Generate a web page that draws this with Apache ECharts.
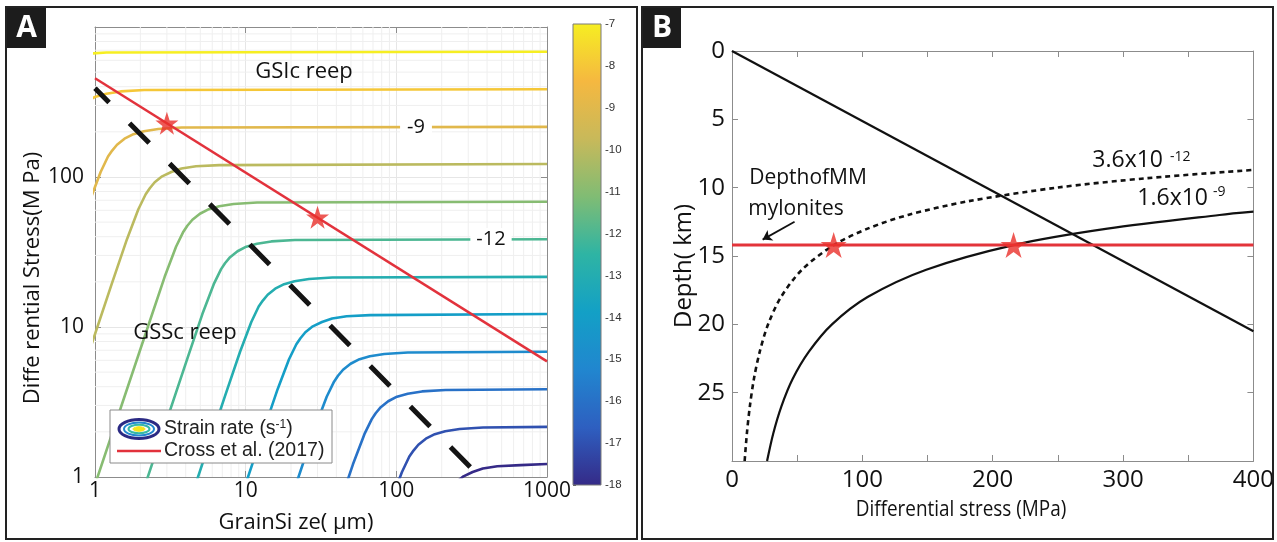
<!DOCTYPE html>
<html>
<head>
<meta charset="utf-8">
<script src="https://cdn.jsdelivr.net/npm/echarts@6/dist/echarts.min.js"></script>
<style>
  html, body { margin: 0; padding: 0; background: #fff; }
  #chart { width: 1277px; height: 542px; }
</style>
</head>
<body>
<div id="chart"></div>
<script>
// ---------------- Panel A: deformation mechanism map ----------------
// Strain-rate contour levels, log10(s^-1)
const levels = [-7, -8, -9, -10, -11, -12, -13, -14, -15, -16, -17, -18];

// Contour traces: [grain size (µm), differential stress (MPa)]
const contourM7  = [[0.667, 638], [0.831, 661], [1.19, 676], [1000, 684]];
const contourM8  = [[0.788, 292], [0.883, 320], [1.01, 343], [1.19, 359], [1.48, 372], [2.12, 380], [1000, 385]];
const contourM9  = [[0.727, 34.3], [0.918, 68.4], [1.09, 108], [1.22, 137], [1.30, 150], [1.40, 164], [1.57, 180], [1.80, 193], [2.11, 202], [2.63, 209], [3.76, 214], [1000, 216]];
const contourM10 = [[0.515, 1.22], [1.29, 19.3], [1.63, 38.5], [1.94, 61.0], [2.17, 76.7], [2.31, 84.2], [2.49, 92.3], [2.79, 101], [3.21, 108], [3.75, 114], [4.68, 118], [6.69, 120], [1000, 122]];
const contourM11 = [[0.916, 0.684], [2.30, 10.8], [2.90, 21.6], [3.45, 34.3], [3.86, 43.2], [4.10, 47.3], [4.43, 51.9], [4.97, 56.9], [5.70, 61.0], [6.67, 63.8], [8.31, 66.1], [11.9, 67.6], [1000, 68.4]];
const contourM12 = [[1.63, 0.385], [4.09, 6.10], [5.16, 12.2], [6.14, 19.3], [6.87, 24.3], [7.29, 26.6], [7.88, 29.2], [8.83, 32.0], [10.1, 34.3], [11.9, 35.9], [14.8, 37.2], [21.2, 38.0], [1000, 38.5]];
const contourM13 = [[2.90, 0.216], [7.27, 3.43], [9.18, 6.84], [10.9, 10.8], [12.2, 13.7], [13.0, 15.0], [14.0, 16.4], [15.7, 18.0], [18.0, 19.3], [21.1, 20.2], [26.3, 20.9], [37.6, 21.4], [1000, 21.6]];
const contourM14 = [[5.15, 0.122], [12.9, 1.93], [16.3, 3.85], [19.4, 6.10], [21.7, 7.67], [23.1, 8.42], [24.9, 9.23], [27.9, 10.1], [32.1, 10.8], [37.5, 11.4], [46.8, 11.8], [66.9, 12.0], [1000, 12.2]];
const contourM15 = [[9.16, 0.0684], [23.0, 1.08], [29.0, 2.16], [34.5, 3.43], [38.6, 4.32], [41.0, 4.73], [44.3, 5.19], [49.7, 5.69], [57.0, 6.10], [66.7, 6.38], [83.1, 6.61], [119, 6.76], [1000, 6.84]];
const contourM16 = [[40.9, 0.610], [51.6, 1.22], [61.4, 1.93], [68.7, 2.43], [72.9, 2.66], [78.8, 2.92], [88.3, 3.20], [101, 3.43], [119, 3.59], [148, 3.72], [212, 3.80], [1000, 3.85]];
const contourM17 = [[72.7, 0.343], [91.8, 0.684], [109, 1.08], [122, 1.37], [130, 1.50], [140, 1.64], [157, 1.80], [180, 1.93], [211, 2.02], [263, 2.09], [376, 2.14], [1000, 2.16]];
const contourM18 = [[163, 0.385], [194, 0.610], [217, 0.767], [231, 0.842], [249, 0.923], [279, 1.01], [321, 1.08], [375, 1.14], [468, 1.18], [669, 1.20], [1000, 1.22]];

// Cross et al. (2017) piezometer
const crossPiezometer = [[1, 455], [1000, 5.9]];
// GSS / GSI field boundary
const fieldBoundary = [[1, 390], [360, 1]];
// Intersections marked with stars
const starsA = [[3, 228], [30, 54]];

// Decade tick labels and minor grid values
const ticksA = [1, 10, 100, 1000];
const minorGridA = [2, 3, 4, 5, 6, 7, 8, 9, 20, 30, 40, 50, 60, 70, 80, 90, 200, 300, 400, 500, 600, 700, 800, 900];

// Colour bar range
const colorbarRange = [-18, -7];

// ---------------- Panel B: stress vs depth ----------------
// Brittle strength line: [stress (MPa), depth (km)]
const brittleLine = [[0, 0], [400, 20.5]];
// Flow law at 3.6x10^-12 s^-1
const creepSlow = [[9.7, 30], [11.4, 28], [13.7, 26], [16.8, 24], [21.3, 22], [27.7, 20], [37.6, 18], [53.7, 16], [78.1, 14.2], [104, 13], [135, 12], [181, 11], [249, 10], [319, 9.3], [400, 8.7]];
// Flow law at 1.6x10^-9 s^-1
const creepFast = [[26.9, 30], [31.6, 28], [37.9, 26], [46.5, 24], [59.0, 22], [76.7, 20], [104, 18], [149, 16], [216, 14.2], [288, 13], [374, 12], [400, 11.76]];
// Depth of the MM mylonites
const myloniteDepth = [[0, 14.2], [400, 14.2]];
const starsB = [[78, 14.2], [216, 14.2]];
const mmArrow = [[48, 12.5], [23.5, 13.8]];

// ---------------- styling helpers ----------------
const palette = ['#352a87', '#2e5fc0', '#2186cf', '#13a0c6', '#2eb4a4', '#80bc74', '#c8b95a', '#f5b840', '#f6ee22'];
function hexToRgb(h) { return [1, 3, 5].map(i => parseInt(h.slice(i, i + 2), 16)); }
function paletteAt(t) {
  const n = palette.length - 1;
  const f = Math.min(Math.max(t, 0), 1) * n;
  const i = Math.min(Math.floor(f), n - 1);
  const u = f - i;
  const a = hexToRgb(palette[i]), b = hexToRgb(palette[i + 1]);
  const c = a.map((v, k) => Math.round(v * (1 - u) + b[k] * u));
  return 'rgb(' + c.join(',') + ')';
}
const levelColor = L => paletteAt((L - colorbarRange[0]) / (colorbarRange[1] - colorbarRange[0]));

const STAR = 'path://M50,0 L61.2,34.5 L97.6,34.5 L68.2,55.9 L79.4,90.5 L50,69.1 L20.6,90.5 L31.8,55.9 L2.4,34.5 L38.8,34.5 Z';
const SANS = "'Open Sans', 'Noto Sans', sans-serif";
const ARIAL = "'Liberation Sans', Arial, sans-serif";
const FRAME = '#8c8c8c';

const contours = [contourM7, contourM8, contourM9, contourM10, contourM11, contourM12,
                  contourM13, contourM14, contourM15, contourM16, contourM17, contourM18];

const fmtLog = (hide) => v => {
  const r = Math.round(v);
  return (ticksA.includes(r) && !hide.includes(r)) ? String(r) : '';
};

// minor log grid as broken polylines, kept beneath the contours
const minorGridLines = [];
minorGridA.forEach(v => { minorGridLines.push([v, 1], [v, 1000], [null, null]); });
minorGridA.forEach(v => { minorGridLines.push([1, v], [1000, v], [null, null]); });

const series = [];

series.push({
  type: 'line', xAxisIndex: 0, yAxisIndex: 0, data: minorGridLines, showSymbol: false,
  connectNulls: false, lineStyle: { color: '#efefef', width: 1 }, silent: true, z: 1
});

contours.forEach((pts, i) => {
  series.push({
    type: 'line', name: 'log rate ' + levels[i], xAxisIndex: 0, yAxisIndex: 0,
    data: pts, showSymbol: false, smooth: false, clip: true,
    lineStyle: { width: 2.6, color: levelColor(levels[i]), join: 'round' }, z: 3, silent: true
  });
});

series.push({
  type: 'line', name: 'Cross et al. (2017)', xAxisIndex: 0, yAxisIndex: 0, data: crossPiezometer,
  showSymbol: false, clip: true, lineStyle: { width: 2.5, color: '#e2323c' }, z: 5, silent: true
});
series.push({
  type: 'line', name: 'boundary', xAxisIndex: 0, yAxisIndex: 0, data: fieldBoundary,
  showSymbol: false, clip: true, z: 4, silent: true,
  lineStyle: { width: 5, color: '#141414', type: [28, 29], dashOffset: 8, cap: 'butt' }
});
series.push({
  type: 'scatter', xAxisIndex: 0, yAxisIndex: 0, data: starsA, symbol: STAR, symbolSize: 23,
  itemStyle: { color: '#e8302a' }, z: 10, silent: true
});

// colour bar
series.push({
  type: 'custom', xAxisIndex: 2, yAxisIndex: 2, data: [[0, colorbarRange[0], colorbarRange[1]]], silent: true,
  renderItem: (params, api) => {
    const p0 = api.coord([0, api.value(2)]);
    const p1 = api.coord([1, api.value(1)]);
    return {
      type: 'rect',
      shape: { x: p0[0], y: p0[1], width: p1[0] - p0[0], height: p1[1] - p0[1] },
      style: {
        fill: new echarts.graphic.LinearGradient(0, 0, 0, 1,
          palette.slice().reverse().map((c, i) => ({ offset: i / (palette.length - 1), color: c }))),
        stroke: '#7a7a7a', lineWidth: 1
      }
    };
  }
});

// panel B series
series.push({
  type: 'line', xAxisIndex: 3, yAxisIndex: 3, data: brittleLine, showSymbol: false,
  lineStyle: { width: 2.2, color: '#111' }, z: 3, silent: true
});
series.push({
  type: 'line', xAxisIndex: 3, yAxisIndex: 3, data: creepSlow, showSymbol: false, smooth: 0.3,
  lineStyle: { width: 2.6, color: '#111', type: [5, 4] }, z: 3, silent: true
});
series.push({
  type: 'line', xAxisIndex: 3, yAxisIndex: 3, data: creepFast, showSymbol: false, smooth: 0.3,
  lineStyle: { width: 2.2, color: '#111' }, z: 3, silent: true
});
series.push({
  type: 'line', xAxisIndex: 3, yAxisIndex: 3, data: myloniteDepth, showSymbol: false,
  lineStyle: { width: 3, color: '#e3343a' }, z: 4, silent: true
});
series.push({
  type: 'scatter', xAxisIndex: 3, yAxisIndex: 3, data: starsB, symbol: STAR, symbolSize: 26,
  itemStyle: { color: '#ea2f2a' }, z: 10, silent: true
});
series.push({
  type: 'lines', coordinateSystem: 'cartesian2d', xAxisIndex: 3, yAxisIndex: 3,
  data: [{ coords: mmArrow }], symbol: ['none', 'arrow'], symbolSize: 9,
  lineStyle: { width: 1.8, color: '#111', opacity: 1 }, z: 5, silent: true
});

const axisCommon = {
  axisLine: { show: true, onZero: false, lineStyle: { color: FRAME, width: 1 } },
  axisTick: { show: true, inside: true, length: 6, lineStyle: { color: FRAME } },
  splitLine: { show: false }
};

const option = {
  animation: false,
  backgroundColor: '#fff',
  grid: [
    { left: 95, top: 27, width: 452, height: 450 },
    { left: 573, top: 24, width: 28, height: 461 },
    { left: 732, top: 51, width: 522, height: 410 }
  ],
  xAxis: [
    Object.assign({}, axisCommon, {
      gridIndex: 0, type: 'log', logBase: 10, min: 1, max: 1000,
      axisLabel: { fontFamily: SANS, fontSize: 21, color: '#111', margin: 4, formatter: fmtLog([]) },
      splitLine: { show: true, lineStyle: { color: '#e6e6e6' } }
    }),
    Object.assign({}, axisCommon, {
      gridIndex: 0, type: 'log', logBase: 10, min: 1, max: 1000, position: 'top',
      axisLabel: { show: false }
    }),
    { gridIndex: 1, type: 'value', min: 0, max: 1, show: false },
    Object.assign({}, axisCommon, {
      gridIndex: 2, type: 'value', min: 0, max: 400, interval: 50,
      axisLabel: { fontFamily: SANS, fontSize: 24, color: '#111', margin: 7,
                   formatter: v => (v % 100 === 0 ? String(v) : '') }
    }),
    Object.assign({}, axisCommon, {
      gridIndex: 2, type: 'value', min: 0, max: 400, interval: 50, position: 'top',
      axisLabel: { show: false }
    })
  ],
  yAxis: [
    Object.assign({}, axisCommon, {
      gridIndex: 0, type: 'log', logBase: 10, min: 1, max: 1000,
      axisLabel: { fontFamily: SANS, fontSize: 21, color: '#111', margin: 11, formatter: fmtLog([1000]) },
      splitLine: { show: true, lineStyle: { color: '#e6e6e6' } }
    }),
    Object.assign({}, axisCommon, {
      gridIndex: 0, type: 'log', logBase: 10, min: 1, max: 1000, position: 'right',
      axisLabel: { show: false }
    }),
    {
      gridIndex: 1, type: 'value', min: colorbarRange[0], max: colorbarRange[1], interval: 1, position: 'right',
      axisLine: { show: false },
      axisTick: { show: true, inside: false, length: 3, lineStyle: { color: '#555' } },
      axisLabel: { fontFamily: ARIAL, fontSize: 11.5, color: '#333', margin: 4 },
      splitLine: { show: false }
    },
    Object.assign({}, axisCommon, {
      gridIndex: 2, type: 'value', min: 0, max: 30, interval: 5, inverse: true,
      axisLabel: { fontFamily: SANS, fontSize: 24, color: '#111', margin: 7,
                   formatter: v => (v === 30 ? '' : String(v)) }
    }),
    Object.assign({}, axisCommon, {
      gridIndex: 2, type: 'value', min: 0, max: 30, interval: 5, inverse: true, position: 'right',
      axisLabel: { show: false }
    })
  ],
  series: series,
  graphic: [
    // panel frames
    { type: 'rect', shape: { x: 6, y: 7, width: 631, height: 532 }, style: { fill: 'none', stroke: '#222', lineWidth: 2 }, z: 100, silent: true },
    { type: 'rect', shape: { x: 642, y: 7, width: 631, height: 532 }, style: { fill: 'none', stroke: '#222', lineWidth: 2 }, z: 100, silent: true },
    // panel letters
    { type: 'rect', shape: { x: 7, y: 8, width: 39, height: 40 }, style: { fill: '#1c1c1c' }, z: 101, silent: true },
    { type: 'text', x: 26.5, y: 28, style: { text: 'A', font: "bold 30px " + SANS, fill: '#fff', textAlign: 'center', textVerticalAlign: 'middle' }, z: 102, silent: true },
    { type: 'rect', shape: { x: 643, y: 8, width: 38, height: 40 }, style: { fill: '#1c1c1c' }, z: 101, silent: true },
    { type: 'text', x: 662, y: 28, style: { text: 'B', font: "bold 30px " + SANS, fill: '#fff', textAlign: 'center', textVerticalAlign: 'middle' }, z: 102, silent: true },

    // panel A axis titles
    { type: 'text', x: 33, y: 278, rotation: Math.PI / 2, style: { text: 'Diffe rential Stress(M Pa)', font: '22px ' + SANS, fill: '#111', textAlign: 'center', textVerticalAlign: 'middle' }, silent: true },
    { type: 'text', x: 296, y: 523, style: { text: 'GrainSi ze( μm)', font: '22px ' + SANS, fill: '#111', textAlign: 'center', textVerticalAlign: 'middle' }, silent: true },
    // panel A annotations
    { type: 'text', x: 304, y: 72, style: { text: 'GSIc reep', font: '22px ' + SANS, fill: '#111', textAlign: 'center', textVerticalAlign: 'middle' }, z: 20, silent: true },
    { type: 'text', x: 185, y: 333, style: { text: 'GSSc reep', font: '22px ' + SANS, fill: '#111', textAlign: 'center', textVerticalAlign: 'middle' }, z: 20, silent: true },
    { type: 'text', x: 416, y: 127, style: { text: '-9', font: '20px ' + SANS, fill: '#111', backgroundColor: '#fff', padding: [1, 7], textAlign: 'center', textVerticalAlign: 'middle' }, z: 20, silent: true },
    { type: 'text', x: 491, y: 239, style: { text: '-12', font: '20px ' + SANS, fill: '#111', backgroundColor: '#fff', padding: [1, 6], textAlign: 'center', textVerticalAlign: 'middle' }, z: 20, silent: true },

    // panel A legend
    { type: 'rect', shape: { x: 110, y: 410, width: 222, height: 53 }, style: { fill: '#fff', stroke: '#8a8a8a', lineWidth: 1 }, z: 30, silent: true },
    { type: 'ellipse', shape: { cx: 139, cy: 429, rx: 20, ry: 9.5 }, style: { fill: '#fff', stroke: '#2b2a84', lineWidth: 3 }, z: 31, silent: true },
    { type: 'ellipse', shape: { cx: 139, cy: 429, rx: 15, ry: 6.5 }, style: { fill: 'none', stroke: '#2186cf', lineWidth: 2 }, z: 31, silent: true },
    { type: 'ellipse', shape: { cx: 139, cy: 429, rx: 10.5, ry: 4.2 }, style: { fill: 'none', stroke: '#36b9a6', lineWidth: 2 }, z: 31, silent: true },
    { type: 'ellipse', shape: { cx: 139, cy: 429, rx: 6, ry: 2.3 }, style: { fill: '#f5e51c', stroke: '#f5e51c', lineWidth: 1 }, z: 31, silent: true },
    { type: 'text', x: 164, y: 429, style: { text: 'Strain rate (s{sup|-1})', font: '19.5px ' + ARIAL, fill: '#222', textAlign: 'left', textVerticalAlign: 'middle',
        rich: { sup: { fontSize: 12, fontFamily: ARIAL, verticalAlign: 'top', fill: '#222' } } }, z: 31, silent: true },
    { type: 'line', shape: { x1: 117, y1: 451, x2: 161, y2: 451 }, style: { stroke: '#e2323c', lineWidth: 2.5 }, z: 31, silent: true },
    { type: 'text', x: 164, y: 451, style: { text: 'Cross et al. (2017)', font: '19.5px ' + ARIAL, fill: '#222', textAlign: 'left', textVerticalAlign: 'middle' }, z: 31, silent: true },

    // panel B axis titles
    { type: 'text', x: 961, y: 510, scaleX: 0.86, style: { text: 'Differential stress (MPa)', font: '22px ' + SANS, fill: '#111', textAlign: 'center', textVerticalAlign: 'middle' }, silent: true },
    { type: 'text', x: 684, y: 266, rotation: Math.PI / 2, style: { text: 'Depth( km)', font: '24px ' + SANS, fill: '#111', textAlign: 'center', textVerticalAlign: 'middle' }, silent: true },
    // panel B annotations
    { type: 'text', x: 808, y: 178, style: { text: 'DepthofMM', font: '21px ' + SANS, fill: '#111', textAlign: 'center', textVerticalAlign: 'middle' }, silent: true },
    { type: 'text', x: 796, y: 209, style: { text: 'mylonites', font: '21px ' + SANS, fill: '#111', textAlign: 'center', textVerticalAlign: 'middle' }, silent: true },
    { type: 'text', x: 1163, y: 160, style: { text: '3.6x10', font: '23px ' + SANS, fill: '#111', textAlign: 'right', textVerticalAlign: 'middle' }, silent: true },
    { type: 'text', x: 1170, y: 157, style: { text: '-12', font: '14px ' + SANS, fill: '#111', textAlign: 'left', textVerticalAlign: 'middle' }, silent: true },
    { type: 'text', x: 1208, y: 198, style: { text: '1.6x10', font: '23px ' + SANS, fill: '#111', textAlign: 'right', textVerticalAlign: 'middle' }, silent: true },
    { type: 'text', x: 1213, y: 192, style: { text: '-9', font: '14px ' + SANS, fill: '#111', textAlign: 'left', textVerticalAlign: 'middle' }, silent: true }
  ]
};

const chart = echarts.init(document.getElementById('chart'), null, { renderer: 'canvas' });
chart.setOption(option);
</script>
</body>
</html>
